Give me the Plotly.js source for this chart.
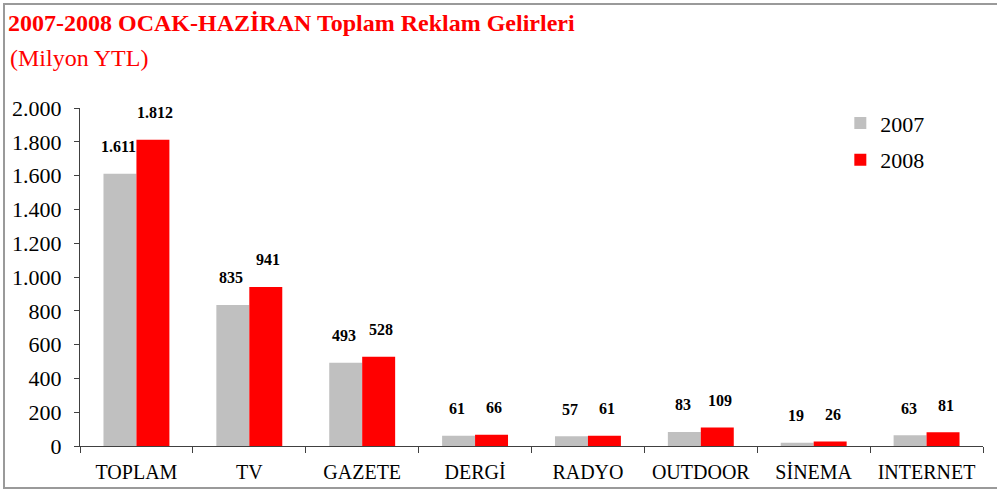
<!DOCTYPE html>
<html><head><meta charset="utf-8">
<script src="https://cdn.plot.ly/plotly-3.0.1.min.js"></script>
<style>
html,body{margin:0;padding:0;background:#fff;}
#chart{width:999px;height:495px;}
#frame{position:absolute;left:3px;top:3px;width:994px;height:486px;border:2px solid #9a9a9a;border-right:none;pointer-events:none;box-sizing:border-box;}
</style>
</head><body>
<div id="chart"></div>
<div id="frame"></div>
<script>
const categories = ["TOPLAM","TV","GAZETE","DERGİ","RADYO","OUTDOOR","SİNEMA","INTERNET"];
const values2007 = [1611, 835, 493, 61, 57, 83, 19, 63];
const values2008 = [1812, 941, 528, 66, 61, 109, 26, 81];
const seriesNames = ["2007","2008"];
const yTickVals = [0,200,400,600,800,1000,1200,1400,1600,1800,2000];

function fmt(v){ return String(v).replace(/\B(?=(\d{3})+(?!\d))/g, "."); }

const FONT = "Times New Roman, serif";

const traces = [
  {type:"bar", name:seriesNames[0], x:categories, y:values2007, marker:{color:"#C0C0C0"}, legendgroup:"a", hoverinfo:"none"},
  {type:"bar", name:seriesNames[1], x:categories, y:values2008, marker:{color:"#FF0000"}, legendgroup:"b", hoverinfo:"none"}
];

const annotations = [];
categories.forEach((c,i)=>{
  annotations.push({x:c, y:values2007[i], xref:"x", yref:"y", text:"<b>"+fmt(values2007[i])+"</b>", showarrow:false, xshift:-18, yshift:27, yanchor:"middle", font:{family:FONT, size:16, color:"#000"}});
  annotations.push({x:c, y:values2008[i], xref:"x", yref:"y", text:"<b>"+fmt(values2008[i])+"</b>", showarrow:false, xshift:19, yshift:27, yanchor:"middle", font:{family:FONT, size:16, color:"#000"}});
});
annotations.push({xref:"paper", yref:"paper", x:-0.08, y:(446-58)/338, xanchor:"left", yanchor:"middle", text:"(Milyon YTL)", showarrow:false, font:{family:FONT, size:24, color:"#FF0000"}});

const layout = {
  width:999, height:495,
  margin:{l:80, r:16, t:108, b:49},
  paper_bgcolor:"#fff", plot_bgcolor:"#fff",
  title:{text:"<b>2007-2008 OCAK-HAZİRAN Toplam Reklam Gelirleri</b>", x:0.008, xref:"container", xanchor:"left", y:1-23/495, yref:"container", yanchor:"middle", font:{family:FONT, size:24, color:"#FF0000"}},
  barmode:"group", bargap:0.416, bargroupgap:0,
  showlegend:true,
  legend:{x:0.842, y:1.017, xanchor:"left", yanchor:"top", font:{family:FONT, size:22, color:"#000"}, traceorder:"grouped", tracegroupgap:5, bgcolor:"rgba(0,0,0,0)"},
  xaxis:{type:"category", showgrid:false, showline:true, linecolor:"#404040", linewidth:1, ticks:"outside", tickson:"boundaries", ticklen:6, tickcolor:"#404040", ticklabelstandoff:8, tickfont:{family:FONT, size:20, color:"#000"}, zeroline:false, fixedrange:true},
  yaxis:{range:[0,2000], tickvals:yTickVals, ticktext:yTickVals.map(fmt), showgrid:false, showline:true, linecolor:"#404040", linewidth:1, ticks:"outside", ticklen:5, tickcolor:"#404040", ticklabelstandoff:8, tickfont:{family:FONT, size:22, color:"#000"}, zeroline:false, fixedrange:true},
  annotations:annotations
};

Plotly.newPlot("chart", traces, layout, {displayModeBar:false, staticPlot:true});
</script>
</body></html>
